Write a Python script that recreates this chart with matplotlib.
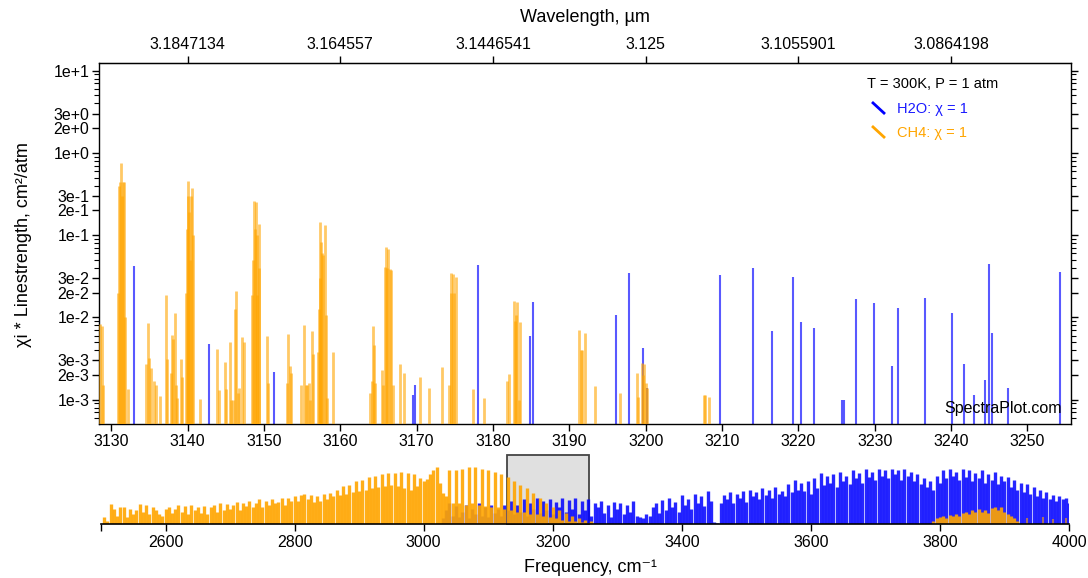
import numpy as np
import matplotlib
matplotlib.use("Agg")
import matplotlib.pyplot as plt
from matplotlib.patches import Rectangle
from matplotlib.ticker import FixedLocator, NullFormatter

plt.rcParams['font.family'] = ['Liberation Sans', 'DejaVu Sans']

# ---------------- main panel data (wavenumber cm-1, xi*S cm-2/atm) ----------------
ch4_wn = [3128.47, 3128.8, 3128.95,
          3130.9, 3131.05, 3131.15, 3131.26, 3131.4, 3131.55, 3131.7, 3131.85, 3132.14,
          3134.5, 3134.84, 3134.97, 3135.2, 3135.55, 3135.8, 3136.37,
          3137.12, 3137.25, 3137.82, 3137.95, 3138.1, 3138.36, 3138.5, 3138.6, 3139.14, 3139.3,
          3139.85, 3139.95, 3140.0, 3140.1, 3140.17, 3140.3, 3140.45, 3140.57, 3140.65,
          3141.65, 3143.8, 3144.1, 3144.9, 3145.0, 3145.5, 3145.68, 3145.94, 3146.2, 3146.3,
          3146.6, 3146.8, 3147.1, 3147.4,
          3148.47, 3148.6, 3148.7, 3148.82, 3148.95, 3149.05, 3149.15, 3149.3, 3149.38,
          3150.43, 3150.56, 3152.97, 3153.1, 3153.4, 3153.5,
          3154.8, 3155.28, 3155.45, 3155.6, 3155.85, 3156.0, 3156.24, 3156.4,
          3157.06, 3157.2, 3157.3, 3157.4, 3157.5, 3157.6, 3157.7, 3157.97, 3158.1, 3158.3,
          3159.1, 3163.9, 3164.1, 3164.3, 3164.4, 3164.6,
          3165.4, 3165.6, 3165.8, 3165.97, 3166.1, 3166.2, 3166.5, 3166.7, 3166.9,
          3167.8, 3168.3, 3170.4, 3171.6, 3173.3,
          3174.3, 3174.45, 3174.55, 3174.7, 3174.9, 3175.15,
          3177.4, 3178.8, 3181.9, 3182.1, 3182.8, 3182.9, 3182.97, 3183.2, 3183.4, 3183.6,
          3191.3, 3191.5, 3191.7, 3192.0, 3193.4, 3196.6,
          3198.9, 3199.0, 3199.46, 3199.6, 3199.8, 3200.1, 3200.2,
          3207.6, 3207.75, 3208.3]
ch4_s = [8.4e-3, 7.8e-3, 1.5e-3,
         2.0e-2, 0.40, 0.44, 0.76, 0.30, 0.44, 0.44, 1.0e-2, 1.35e-3,
         2.7e-3, 8.6e-3, 3.2e-3, 2.4e-3, 1.67e-3, 1.5e-3, 1.1e-3,
         1.9e-2, 3.1e-3, 2.1e-3, 6.2e-3, 5.5e-3, 1.13e-2, 1.5e-3, 1.05e-3, 3.1e-3, 1.87e-3,
         2.0e-2, 0.12, 0.46, 0.30, 0.19, 0.05, 0.30, 0.38, 0.10,
         1.03e-3, 4.1e-3, 1.3e-3, 2.9e-3, 1.35e-3, 5.0e-3, 1.0e-3, 1.0e-3, 1.28e-2, 2.1e-2,
         1.2e-3, 1.4e-3, 5.8e-3, 5.0e-3,
         1.9e-2, 0.05, 0.26, 0.12, 0.25, 0.10, 1.9e-2, 0.135, 0.04,
         6.0e-3, 1.6e-3, 1.6e-3, 6.3e-3, 2.6e-3, 2.1e-3,
         1.5e-3, 8.1e-3, 1.5e-3, 1.5e-3, 1.6e-3, 1.0e-3, 6.9e-3, 3.6e-3,
         3.8e-3, 1.28e-2, 0.03, 0.143, 0.083, 0.06, 0.058, 0.134, 1.08e-2, 1.05e-3,
         3.8e-3, 1.2e-3, 1.7e-3, 7.8e-3, 4.6e-3, 1.6e-3,
         2.3e-3, 1.5e-3, 4.1e-2, 7.2e-2, 0.04, 6.8e-2, 3.9e-2, 3.8e-2, 1.5e-3,
         2.75e-3, 2.1e-3, 1.87e-3, 1.4e-3, 2.5e-3,
         1.5e-3, 3.5e-2, 2.0e-2, 3.4e-2, 2.0e-2, 3.1e-2,
         1.35e-3, 1.05e-3, 1.7e-3, 2.05e-3, 1.6e-2, 9.0e-3, 1.07e-2, 1.55e-2, 1.0e-3, 8.9e-3,
         7.0e-3, 4.0e-3, 4.0e-3, 6.5e-3, 1.45e-3, 1.2e-3,
         2.1e-3, 1.08e-3, 2.8e-3, 2.0e-3, 2.75e-3, 1.6e-3, 1.4e-3,
         1.13e-3, 1.13e-3, 1.08e-3]

h2o_wn = [3133.0, 3142.75, 3151.3, 3169.5, 3169.8, 3178.1, 3184.8, 3185.3, 3196.1, 3197.8,
          3199.7, 3200.2, 3209.7, 3214.1, 3216.5, 3219.3, 3220.4, 3222.0, 3225.7, 3226.0,
          3227.5, 3229.9, 3232.2, 3233.0, 3236.6, 3240.1, 3241.75, 3243.0, 3244.4, 3245.0,
          3245.4, 3247.4, 3254.2]
h2o_s = [4.2e-2, 4.8e-3, 2.2e-3, 1.13e-3, 1.5e-3, 4.3e-2, 6.0e-3, 1.56e-2, 1.06e-2, 3.5e-2,
         4.3e-3, 1.4e-3, 3.3e-2, 4.0e-2, 6.9e-3, 3.1e-2, 8.8e-3, 7.5e-3, 1.0e-3, 1.0e-3,
         1.67e-2, 1.5e-2, 2.6e-3, 1.29e-2, 1.74e-2, 1.13e-2, 2.7e-3, 1.13e-3, 1.75e-3, 4.45e-2,
         6.5e-3, 1.4e-3, 3.57e-2]

# ---------------- overview panel data (relative height, % of panel) ----------------
ovw_step = 5
ovw_ch4_start = 2505
ovw_ch4_h = [10, 5, 29, 22, 12, 24, 25, 10, 22, 14, 20, 29, 18, 28, 15, 24, 20, 14, 12, 22,
             25, 16, 22, 28, 18, 26, 14, 27, 20, 24, 16, 26, 14, 25, 28, 18, 30, 20, 29, 22,
             27, 32, 20, 30, 26, 33, 24, 30, 36, 25, 34, 28, 36, 30, 32, 38, 28, 37, 33, 40,
             34, 42, 44, 36, 42, 32, 40, 34, 43, 36, 45, 40, 50, 42, 55, 44, 56, 46, 62, 48,
             64, 50, 68, 52, 70, 54, 72, 55, 74, 56, 74, 55, 75, 52, 74, 50, 72, 55, 66, 62,
             65, 72, 78, 82, 60, 45, 40, 78, 30, 78, 30, 80, 28, 82, 30, 82, 27, 80, 26, 78,
             25, 75, 24, 72, 22, 68, 20, 63, 18, 57, 17, 52, 15, 45, 14, 38, 12, 30, 10, 24,
             8, 20, 6, 16, 5, 12, 4, 9, 3, 6, 2, 4]
ovw_ch4b_start = 3790
ovw_ch4b_h = [4, 8, 10, 12, 9, 13, 11, 15, 12, 16, 18, 14, 20, 17, 22, 18, 20, 16, 23, 25,
              20, 24, 18, 15, 12, 8, 4]
ovw_ch4c_wn = [3935, 3960, 3975, 3995]
ovw_ch4c_h = [8, 10, 7, 9]
ovw_h2o_start = 3030
ovw_h2o_h = [8, 20, 30, 12, 26, 10, 18, 28, 9, 22, 14, 30, 12, 24, 10, 27, 16, 22, 11, 28,
             20, 34, 14, 28, 18, 36, 12, 30, 22, 38, 16, 34, 20, 36, 14, 32, 24, 38, 18, 35,
             22, 37, 15, 33, 20, 36, 12, 30, 24, 34, 16, 28, 10, 32, 22, 30, 14, 27, 18, 33,
             12, 10, 9, 14, 11, 24, 30, 16, 35, 20, 38, 24, 32, 18, 42, 28, 36, 22, 44, 30,
             40, 26, 48, 34, 3, 2, 30, 42, 36, 46, 30, 44, 38, 48, 32, 50, 40, 46, 36, 52,
             42, 50, 38, 54, 44, 48, 40, 58, 46, 64, 50, 60, 48, 62, 44, 66, 52, 74, 56, 70,
             60, 72, 54, 76, 62, 70, 58, 78, 66, 74, 60, 80, 68, 76, 64, 80, 70, 78, 66, 80,
             72, 78, 64, 80, 70, 76, 62, 72, 58, 66, 54, 62, 50, 70, 60, 78, 66, 80, 70, 76,
             64, 80, 68, 78, 62, 74, 66, 78, 60, 72, 64, 76, 58, 70, 62, 68, 54, 64, 50, 60,
             46, 58, 44, 54, 40, 50, 38, 46, 36, 42, 34, 40, 36, 38, 30]

# axis ticks / labels
main_xticks = [3130, 3140, 3150, 3160, 3170, 3180, 3190, 3200, 3210, 3220, 3230, 3240, 3250]
wl_tick_wn = [3140, 3160, 3180, 3200, 3220, 3240]
y_major = [1e-3, 2e-3, 3e-3, 1e-2, 2e-2, 3e-2, 1e-1, 2e-1, 3e-1, 1e0, 2e0, 3e0, 1e1]
ovw_xticks = [2600, 2800, 3000, 3200, 3400, 3600, 3800, 4000]

BLUE = '#0000ff'
ORANGE = '#ffa500'
W, H = 1088, 578

fig = plt.figure(figsize=(W / 100, H / 100), dpi=100)


def frac(x0, y0, x1, y1):
    return [x0 / W, 1 - y1 / H, (x1 - x0) / W, (y1 - y0) / H]


# ---------------- main axes ----------------
ax = fig.add_axes(frac(99, 63, 1071, 424))
ax.set_yscale('log')
ax.set_xlim(3128.4, 3255.7)
ax.set_ylim(5.07e-4, 12.4)
ax.vlines(h2o_wn, 1e-7, h2o_s, colors=BLUE, alpha=0.65, lw=1.5, zorder=2)
ax.vlines(ch4_wn, 1e-7, ch4_s, colors=ORANGE, alpha=0.6, lw=2.0, zorder=3)


def sci(v):
    e = int(np.floor(np.log10(v) + 1e-9))
    m = int(round(v / 10 ** e))
    return f"{m}e{'+' if e >= 0 else '-'}{abs(e)}"


ax.yaxis.set_major_locator(FixedLocator(y_major))
ax.set_yticklabels([sci(v) for v in y_major])
minors = [m * 10.0 ** e for e in range(-4, 2) for m in range(4, 10)]
ax.yaxis.set_minor_locator(FixedLocator(minors))
ax.yaxis.set_minor_formatter(NullFormatter())
ax.set_xticks(main_xticks)
ax.xaxis.set_minor_locator(FixedLocator([]))
ax.tick_params(axis='both', which='major', direction='out', length=5, width=1,
               labelsize=11.5, pad=2, right=True)
ax.tick_params(axis='y', which='minor', direction='out', length=3.5, width=0.8, right=True)
for s in ax.spines.values():
    s.set_linewidth(1.0)

top = ax.secondary_xaxis('top')
top.set_xticks(wl_tick_wn)
top.set_xticklabels([f"{1e4 / w:.8g}" for w in wl_tick_wn])
top.tick_params(direction='out', length=5, width=1, labelsize=11.5, pad=3)
top.xaxis.set_minor_locator(FixedLocator([]))

# legend-like annotations
tr = ax.transAxes


def ax_pt(px, py):
    return ((px - 99) / 972, (424 - py) / 361)


ax.text(*ax_pt(933, 84), 'T = 300K, P = 1 atm', transform=tr, ha='center', va='center',
        fontsize=10.5, color='black')
(x0, y0), (x1, y1) = ax_pt(872, 102), ax_pt(885, 114)
ax.plot([x0, x1], [y0, y1], transform=tr, color=BLUE, lw=2, solid_capstyle='butt')
ax.text(*ax_pt(897, 109), 'H2O: χ = 1', transform=tr, ha='left', va='center',
        fontsize=10.5, color='#1a1aff')
(x0, y0), (x1, y1) = ax_pt(872, 126), ax_pt(885, 138)
ax.plot([x0, x1], [y0, y1], transform=tr, color=ORANGE, lw=2, solid_capstyle='butt')
ax.text(*ax_pt(897, 133), 'CH4: χ = 1', transform=tr, ha='left', va='center',
        fontsize=10.5, color=ORANGE)
ax.text(*ax_pt(1062, 408), 'SpectraPlot.com', transform=tr, ha='right', va='center',
        fontsize=11.5, color='black')

# ---------------- overview axes ----------------
ax2 = fig.add_axes(frac(101, 455, 1069, 524))
ax2.set_xlim(2500, 4000)
ax2.set_ylim(0, 100)
xl = ax.get_xlim()
ax2.add_patch(Rectangle((xl[0], 0), xl[1] - xl[0], 100, facecolor='#e0e0e0',
                        edgecolor='#444444', lw=1.3, zorder=0, clip_on=False))
h2o_x = [ovw_h2o_start + ovw_step * i for i in range(len(ovw_h2o_h))]
ch4_x = [ovw_ch4_start + ovw_step * i for i in range(len(ovw_ch4_h))]
ch4b_x = [ovw_ch4b_start + ovw_step * i for i in range(len(ovw_ch4b_h))]
ax2.vlines(h2o_x, 0, ovw_h2o_h, colors=BLUE, alpha=0.85, lw=2.4, zorder=2)
ax2.vlines(ch4_x, 0, ovw_ch4_h, colors=ORANGE, alpha=0.9, lw=2.4, zorder=3)
ax2.vlines(ch4b_x, 0, ovw_ch4b_h, colors=ORANGE, alpha=0.9, lw=2.4, zorder=3)
ax2.vlines(ovw_ch4c_wn, 0, ovw_ch4c_h, colors=ORANGE, alpha=0.6, lw=1.5, zorder=3)
for k in ('left', 'right', 'top'):
    ax2.spines[k].set_visible(False)
ax2.spines['bottom'].set_linewidth(1.2)
ax2.spines['bottom'].set_zorder(5)
ax2.set_yticks([])
ax2.set_xticks(ovw_xticks)
ax2.xaxis.set_minor_locator(FixedLocator([2500]))
ax2.tick_params(axis='x', which='both', direction='out', length=5, width=1,
                labelsize=11.5, pad=3)

# axis titles
fig.text(585 / W, 1 - 18 / H, 'Wavelength, µm', ha='center', va='center', fontsize=13)
fig.text(590 / W, 1 - 568 / H, 'Frequency, cm⁻¹', ha='center', va='center', fontsize=13)
fig.text(24 / W, 1 - 245 / H, 'χi * Linestrength, cm²/atm', ha='center', va='center',
         rotation=90, fontsize=13)

fig.savefig('out.png', dpi=100)
